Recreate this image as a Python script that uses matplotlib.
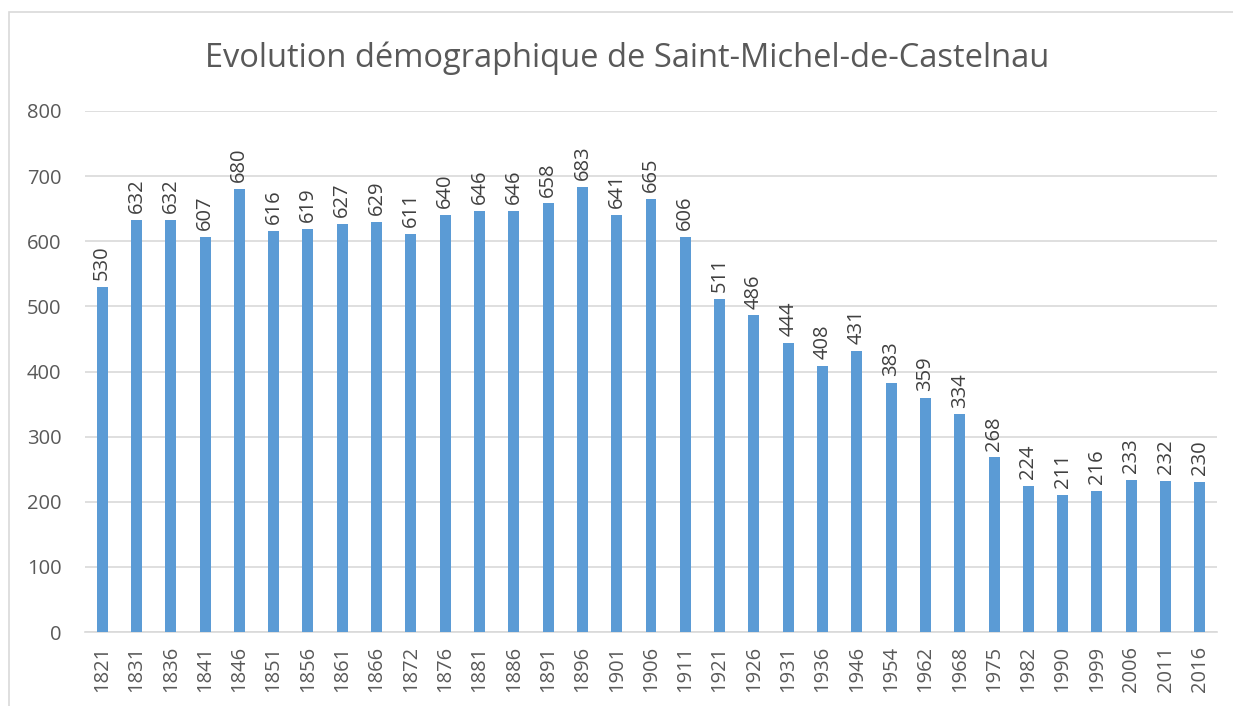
import matplotlib
matplotlib.use("Agg")
import matplotlib.pyplot as plt
from matplotlib.patches import Rectangle

years = ["1821", "1831", "1836", "1841", "1846", "1851", "1856", "1861", "1866", "1872",
         "1876", "1881", "1886", "1891", "1896", "1901", "1906", "1911", "1921", "1926",
         "1931", "1936", "1946", "1954", "1962", "1968", "1975", "1982", "1990", "1999",
         "2006", "2011", "2016"]
population = [530, 632, 632, 607, 680, 616, 619, 627, 629, 611,
              640, 646, 646, 658, 683, 641, 665, 606, 511, 486,
              444, 408, 431, 383, 359, 334, 268, 224, 211, 216,
              233, 232, 230]
y_ticks = [0, 100, 200, 300, 400, 500, 600, 700, 800]
title = "Evolution démographique de Saint-Michel-de-Castelnau"

plt.rcParams['font.family'] = ['Open Sans', 'DejaVu Sans']

W, H = 1233, 706
fig = plt.figure(figsize=(W / 100, H / 100), dpi=100)
fig.patch.set_facecolor("white")

# chart border
fig.patches.append(Rectangle((9 / W, -0.1), 1.2, (H - 12) / H + 0.1,
                             transform=fig.transFigure, fill=False,
                             edgecolor="#d9d9d9", linewidth=1.2))

left, right, top, bottom = 85, 1217, 111, 632
ax = fig.add_axes([left / W, 1 - bottom / H, (right - left) / W, (bottom - top) / H])

x = list(range(len(years)))
bars = ax.bar(x, population, width=0.32, color="#5b9bd5", zorder=3)
ax.set_xlim(-0.5, len(years) - 0.5)
ax.set_ylim(0, 800)
ax.set_yticks(y_ticks)
ax.set_yticklabels([str(v) for v in y_ticks])
ax.set_xticks(x)
ax.set_xticklabels(years, rotation=90)
ax.tick_params(axis='both', length=0, labelsize=14.5, colors="#595959")
ax.tick_params(axis='y', pad=17)
ax.tick_params(axis='x', pad=10)
ax.grid(axis='y', color="#d9d9d9", linewidth=1.2, zorder=0)
for s in ["top", "right", "left"]:
    ax.spines[s].set_visible(False)
ax.spines["bottom"].set_color("#d9d9d9")
ax.spines["bottom"].set_linewidth(1.2)

for xi, v in zip(x, population):
    ax.annotate(str(v), (xi, v), xytext=(0, 5), textcoords="offset points",
                rotation=90, ha="center", va="bottom", fontsize=14.5, color="#404040")

fig.text(0.5 * (205 + 1050) / W, 1 - 58 / H, title, ha="center", va="center",
         fontsize=23.5, color="#595959")

fig.savefig("out.png", dpi=100, facecolor="white")
